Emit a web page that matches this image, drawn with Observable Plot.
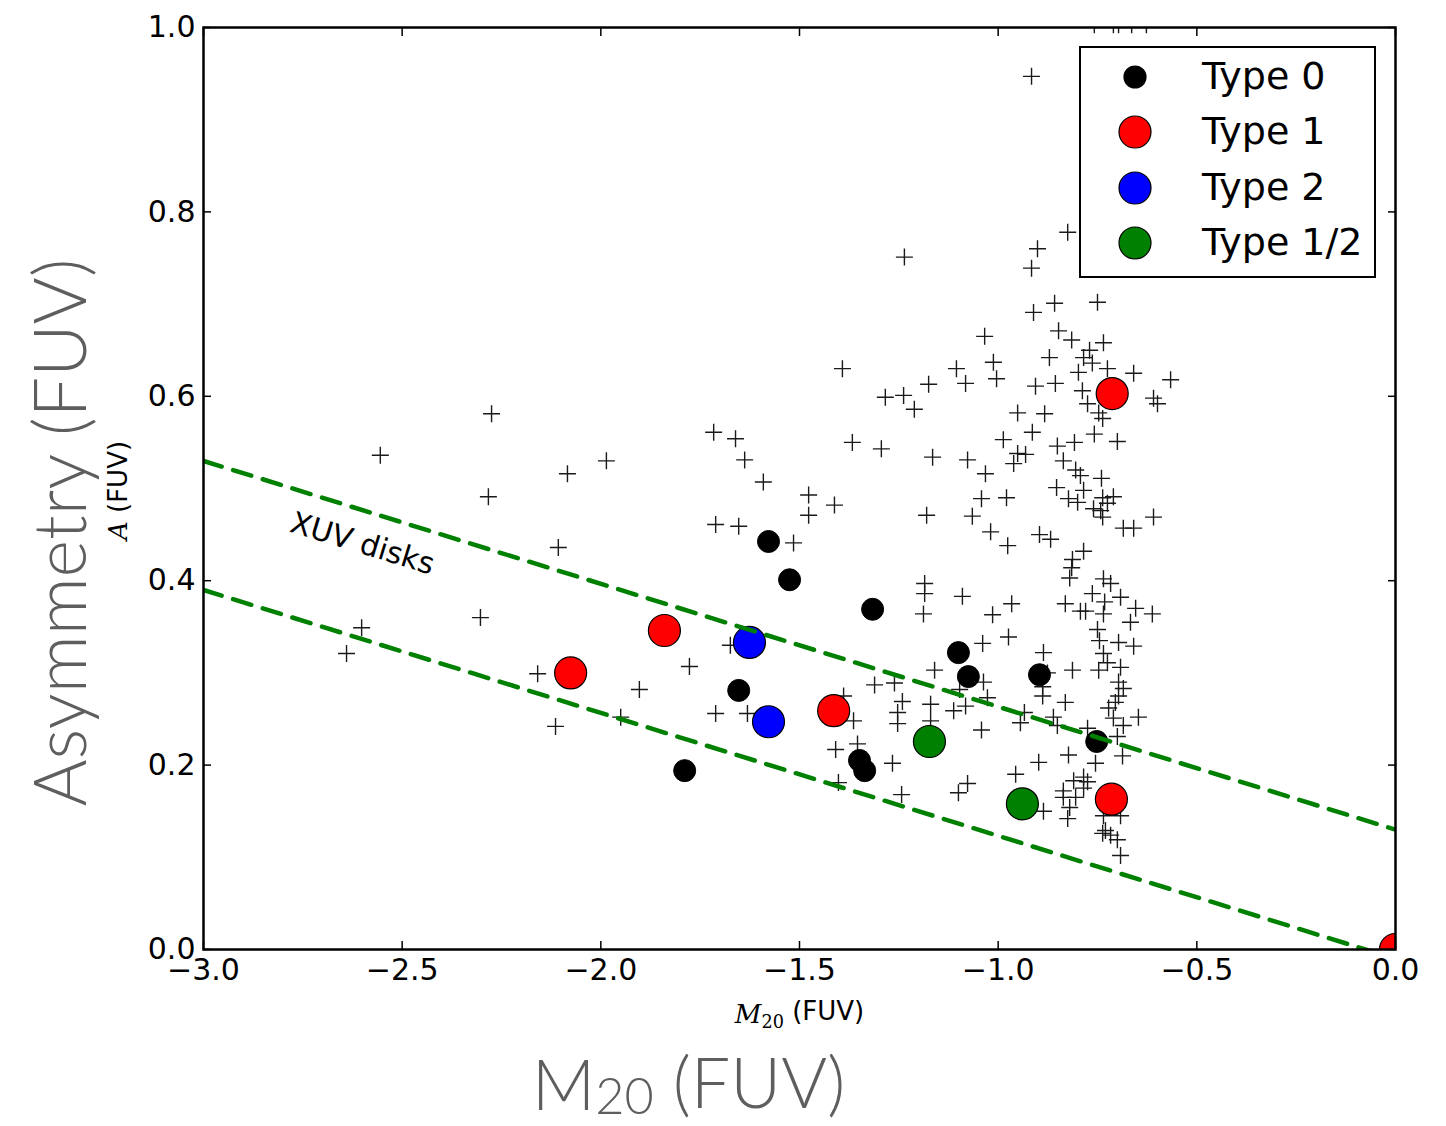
<!DOCTYPE html>
<html>
<head>
<meta charset="utf-8">
<script src="https://cdn.jsdelivr.net/npm/d3@7"></script>
<script src="https://cdn.jsdelivr.net/npm/@observablehq/plot@0.6"></script>
<style>
  body { margin: 0; background: #fff; }
  #wrap { position: relative; width: 1446px; height: 1126px; overflow: hidden; }
  #legend { position: absolute; left: 1079px; top: 46px; width: 293px; height: 228px;
            border: 2.5px solid #000; background: #fff; font-family: "DejaVu Sans", sans-serif; }
  .lg-row { position: absolute; left: 0; height: 50px; width: 100%; }
  .lg-row svg { position: absolute; left: 29px; top: 0; }
  .lg-row span { position: absolute; left: 121px; top: 2px; font-size: 38px; line-height: 44px; color: #000; }
</style>
</head>
<body>
<div id="wrap"></div>
<script>
// ---- data ----
const xTicks = [-3.0, -2.5, -2.0, -1.5, -1.0, -0.5, 0.0];
const yTicks = [0.0, 0.2, 0.4, 0.6, 0.8, 1.0];

const crossM20 = [
 -2.555,-2.275,-2.283,-2.084,-1.986,-2.107,-2.303,-2.602,-2.640,-2.159,-1.903,-1.950,-2.114,
 -1.716,-1.661,-1.638,-1.591,-1.477,-1.477,-1.412,-1.711,-1.653,-1.515,-1.777,-1.711,-1.631,-1.674,
 -1.389,-1.409,-1.402,-1.392,-1.284,-1.238,-1.211,-1.175,-1.082,-1.367,-1.294,-1.165,-1.077,-1.032,
 -1.042,-1.180,-1.065,-1.019,-1.236,-1.105,-1.034,-1.012,-1.004,-1.185,-1.185,-1.188,-1.090,-1.014,
 -1.039,-1.160,-1.311,-1.261,-1.241,-1.253,-1.253,-1.170,-1.170,-1.112,-1.082,-1.097,-1.037,-1.027,
 -1.042,-1.354,-1.364,-1.266,-1.243,-1.100,-1.077,
 -0.916,-0.825,-0.901,-0.916,-0.858,-0.911,-0.750,-0.848,-0.815,-0.735,-0.770,-0.785,-0.871,-0.763,
 -0.906,-0.856,-0.798,-0.788,-0.725,-0.659,-0.566,-0.609,-0.599,-0.951,-0.883,-0.775,-0.747,-0.737,
 -0.914,-0.987,-0.951,-0.931,-0.961,-0.851,-0.808,-0.758,-0.700,-0.836,-0.805,-0.793,-0.740,-0.853,
 -0.785,-0.823,-0.800,-0.737,-0.710,-0.725,-0.742,-0.737,-0.760,-0.609,-0.685,-0.659,-0.896,-0.868,
 -0.785,-0.813,-0.815,-0.820,-0.735,-0.717,-0.763,-0.692,-0.732,-0.831,-0.793,-0.780,-0.735,-0.654,
 -0.612,-0.979,-0.976,-0.966,-0.974,-0.886,-0.667,-0.750,-0.745,-0.697,-0.659,-0.735,-0.725,-0.692,
 -0.747,-0.813,-0.876,-0.888,-0.888,-0.697,-0.685,-0.697,-0.722,-0.705,-0.831,-0.647,-0.710,-0.685,
 -0.775,-0.700,-0.687,-0.755,-0.823,-0.898,-0.956,-0.861,-0.851,-0.934,-0.944,-0.886,-0.810,-0.785,
 -0.836,-0.785,-0.805,-0.836,-0.820,-0.825,-0.735,-0.692,-0.730,-0.717,-0.700,-0.692,-0.737,-0.775,
 -0.758,-0.710,-0.697,-0.664,-0.627
];
const crossA = [
 0.536,0.581,0.491,0.516,0.530,0.436,0.360,0.349,0.321,0.299,0.282,0.252,0.242,
 0.561,0.554,0.531,0.507,0.493,0.471,0.482,0.461,0.459,0.441,0.307,0.256,0.256,0.330,
 0.275,0.217,0.181,0.630,0.599,0.601,0.586,0.613,0.614,0.550,0.543,0.534,0.531,0.516,
 0.489,0.471,0.470,0.453,0.751,0.630,0.665,0.637,0.619,0.397,0.386,0.364,0.383,0.363,
 0.332,0.303,0.287,0.289,0.269,0.257,0.245,0.266,0.248,0.259,0.264,0.282,0.290,0.273,
 0.238,0.223,0.248,0.202,0.168,0.170,0.180,
 0.947,0.778,0.760,0.739,0.701,0.691,0.702,0.671,0.661,0.658,0.650,0.642,0.642,0.636,
 0.611,0.614,0.626,0.606,0.630,0.625,0.618,0.598,0.592,0.582,0.581,0.592,0.582,0.576,
 0.561,0.553,0.538,0.537,0.527,0.546,0.550,0.559,0.551,0.530,0.520,0.514,0.511,0.501,
 0.498,0.489,0.485,0.490,0.491,0.484,0.476,0.469,0.478,0.469,0.457,0.457,0.450,0.445,
 0.432,0.423,0.414,0.403,0.402,0.397,0.386,0.382,0.377,0.375,0.367,0.367,0.364,0.370,
 0.364,0.490,0.438,0.375,0.339,0.322,0.355,0.347,0.335,0.333,0.329,0.321,0.311,0.306,
 0.303,0.303,0.300,0.285,0.275,0.290,0.283,0.275,0.262,0.268,0.268,0.252,0.251,0.243,
 0.240,0.231,0.210,0.202,0.211,0.203,0.190,0.252,0.243,0.257,0.246,0.150,0.183,0.187,
 0.172,0.175,0.165,0.165,0.154,0.142,0.145,0.145,0.129,0.124,0.119,0.102,0.126,0.182,
 1.003,1.003,1.003,1.003,1.003
];

const type0M20 = [-1.578,-1.525,-1.316,-1.653,-1.789,-1.100,-1.075,-0.896,-1.349,-1.336,-0.752];
const type0A   = [0.4425,0.401,0.369,0.281,0.194,0.322,0.296,0.298,0.205,0.194,0.2256];
const type1M20 = [-2.076,-1.840,-1.414,-0.713,-0.715,0.0];
const type1A   = [0.300,0.346,0.259,0.603,0.163,0.0];
const type2M20 = [-1.626,-1.578];
const type2A   = [0.333,0.247];
const type12M20 = [-1.173,-0.939];
const type12A   = [0.2256,0.158];

const typeNames  = ["Type 0", "Type 1", "Type 2", "Type 1/2"];
const typeColors = ["#000000", "#ff0000", "#0000ff", "#008000"];

// XUV-disk boundary lines: A = slope * M20 + intercept
const xuvSlope = -0.1333;
const xuvIntercepts = [0.13, -0.01];
const xuvLabel = {m20: -2.60, a: 0.440, text: "XUV disks"};

const xLabelInner = "M20 (FUV)";
const yLabelInner = "A (FUV)";
const xLabelBig = "M20 (FUV) ";
const yLabelBig = "Asymmetry (FUV)";

// ---- build tables ----
const crosses = crossM20.map((m, i) => ({m20: m, a: crossA[i]}));
const zip = (ms, as) => ms.map((m, i) => ({m20: m, a: as[i]}));
const t0 = zip(type0M20, type0A), t1 = zip(type1M20, type1A),
      t2 = zip(type2M20, type2A), t12 = zip(type12M20, type12A);
const xuvRows = [];
xuvIntercepts.forEach((b, k) => [-3, 0].forEach(m => xuvRows.push({m20: m, a: xuvSlope * m + b, line: k})));

const plusSym = {
  draw(ctx, size) {
    const r = Math.sqrt(size / Math.PI);
    ctx.moveTo(-r, 0); ctx.lineTo(r, 0);
    ctx.moveTo(0, -r); ctx.lineTo(0, r);
  }
};
const fmt = d3.format(".1f");
const gray = "#5e5e5e";

const chart = Plot.plot({
  width: 1446, height: 1126,
  marginLeft: 203, marginRight: 51, marginTop: 27, marginBottom: 177,
  style: {fontFamily: "'DejaVu Sans', sans-serif", fontSize: "30px", color: "#000", background: "#fff", overflow: "visible"},
  x: {domain: [-3, 0], label: null},
  y: {domain: [0, 1], label: null},
  marks: [
    Plot.dot(crosses, {x: "m20", y: "a", symbol: plusSym, r: 8.5, stroke: "#1a1a1a", strokeWidth: 1.4, fill: "none", clip: true}),
    Plot.dot(t0, {x: "m20", y: "a", r: 11, fill: typeColors[0], stroke: "#000", strokeWidth: 1, clip: true}),
    Plot.dot(t1, {x: "m20", y: "a", r: 16, fill: typeColors[1], stroke: "#000", strokeWidth: 1.2, clip: true}),
    Plot.dot(t2, {x: "m20", y: "a", r: 16, fill: typeColors[2], stroke: "#000", strokeWidth: 1.2, clip: true}),
    Plot.dot(t12, {x: "m20", y: "a", r: 16, fill: typeColors[3], stroke: "#000", strokeWidth: 1.2, clip: true}),
    Plot.line(xuvRows, {x: "m20", y: "a", z: "line", stroke: "#008000", strokeWidth: 4.5, strokeDasharray: "19,12", clip: true}),
    Plot.text([xuvLabel], {x: "m20", y: "a", text: "text", rotate: 17, fontSize: 30, fill: "#000"}),
    Plot.axisX({anchor: "bottom", ticks: xTicks, tickSize: -8, tickPadding: 17, tickFormat: fmt, label: null, fontSize: 30, strokeWidth: 1.5}),
    Plot.axisX({anchor: "top", ticks: xTicks, tickSize: -8, tickFormat: () => "", label: null, strokeWidth: 1.5}),
    Plot.axisY({anchor: "left", ticks: yTicks, tickSize: -8, tickPadding: 16, tickFormat: fmt, label: null, fontSize: 30, strokeWidth: 1.5}),
    Plot.axisY({anchor: "right", ticks: yTicks, tickSize: -8, tickFormat: () => "", label: null, strokeWidth: 1.5}),
    Plot.frame({stroke: "#000", strokeWidth: 2.5}),
    Plot.text([yLabelInner], {frameAnchor: "left", textAnchor: "middle", dx: -85, dy: 2, rotate: -90, fontSize: 26, fill: "#000"}),
    Plot.text([yLabelBig], {frameAnchor: "left", textAnchor: "middle", dx: -141, dy: 44, rotate: -90, fontSize: 72, fill: gray, fontWeight: 300, fontFamily: "Lato, 'Open Sans', sans-serif"}),
    Plot.text([xLabelInner], {frameAnchor: "bottom", dy: 73, fontSize: 26, fill: "#000"}),
    Plot.text([xLabelBig], {frameAnchor: "bottom", dx: -111, dy: 160, fontSize: 70, fill: gray, fontWeight: 300, fontFamily: "Lato, 'Open Sans', sans-serif"})
  ]
});

// subscripts / math italics in labels
d3.select(chart).selectAll("text").each(function () {
  const t = this.textContent;
  const sel = d3.select(this);
  if (t === xLabelInner) {
    sel.text(null);
    sel.append("tspan").attr("font-family", "'DejaVu Serif', serif").attr("font-style", "italic").text("M");
    sel.append("tspan").attr("font-family", "'DejaVu Serif', serif").attr("font-size", "0.68em").attr("dy", "0.3em").text("20");
    sel.append("tspan").attr("dy", "-0.3em").text(" (FUV)");
  } else if (t === yLabelInner) {
    sel.text(null);
    sel.append("tspan").attr("font-family", "'DejaVu Serif', serif").attr("font-style", "italic").text("A");
    sel.append("tspan").text(" (FUV)");
  } else if (t === xLabelBig) {
    sel.text(null);
    sel.append("tspan").text("M");
    sel.append("tspan").attr("font-size", "0.72em").attr("dy", "0.08em").text("20");
    sel.append("tspan").attr("dy", "-0.08em").text(" (FUV)");
  }
});

const wrap = document.getElementById("wrap");
wrap.appendChild(chart);

// legend
const legend = document.createElement("div");
legend.id = "legend";
typeNames.forEach((name, i) => {
  const row = document.createElement("div");
  row.className = "lg-row";
  row.style.top = (4 + i * 55.4) + "px";
  const r = i === 0 ? 11 : 16;
  row.innerHTML = `<svg width="50" height="50"><circle cx="25" cy="25" r="${r}" fill="${typeColors[i]}" stroke="#000" stroke-width="1.2"/></svg><span>${name}</span>`;
  legend.appendChild(row);
});
wrap.appendChild(legend);
</script>
</body>
</html>
